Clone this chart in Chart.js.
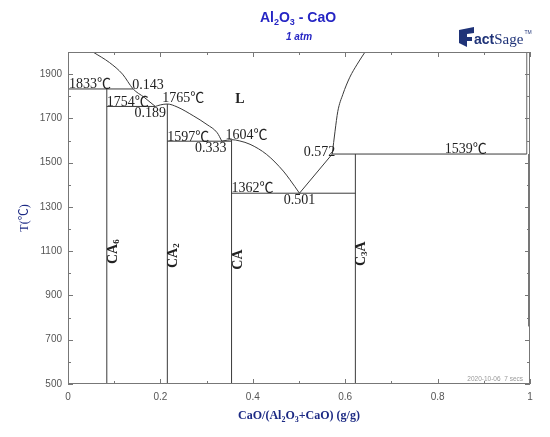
<!DOCTYPE html>
<html>
<head>
<meta charset="utf-8">
<script src="https://cdn.jsdelivr.net/npm/chart.js@4.4.0/dist/chart.umd.min.js"></script>
<style>
html, body { margin: 0; padding: 0; background: #fff; }
</style>
</head>
<body>
<canvas id="c" width="550" height="437"></canvas>
<script>
// compounds: CaO mass fraction and top of their vertical line
const compoundNames = ['CA_6', 'CA_2', 'CA', 'C_3A'];
const compoundX = [0.084, 0.215, 0.354, 0.622];
const compoundTop = [1833, 1765, 1604, 1539];

// invariant lines (T, from x, to x)
const invT = [1833, 1754, 1597, 1362, 1539];
const invFrom = [0, 0.084, 0.215, 0.354, 0.572];
const invTo = [0.141, 0.189, 0.354, 0.622, 0.993];

// liquidus branches
const liqAx = [0.054, 0.09, 0.118, 0.141, 0.165, 0.189];
const liqAT = [2000, 1952, 1900, 1833, 1795, 1754];
const liqBx = [0.189, 0.2, 0.215, 0.236, 0.271, 0.301, 0.323, 0.333];
const liqBT = [1754, 1761, 1765, 1752, 1712, 1672, 1635, 1597];
const liqCx = [0.333, 0.345, 0.354, 0.372, 0.394, 0.43, 0.466, 0.48, 0.501];
const liqCT = [1597, 1602, 1604, 1598, 1583, 1537, 1462, 1424, 1362];
const liqDx = [0.501, 0.572];
const liqDT = [1362, 1539];
const liqEx = [0.572, 0.578, 0.584, 0.595, 0.610, 0.626, 0.643];
const liqET = [1539, 1642, 1732, 1809, 1886, 1945, 2000];

// lines along the CaO side
const edgeX = [0.993, 0.997];
const edgeFrom = [1539, 760];
const edgeTo = [2000, 1539];

const xTicks = [0, 0.2, 0.4, 0.6, 0.8, 1];
const yTicks = [500, 700, 900, 1100, 1300, 1500, 1700, 1900];

// text on the diagram: text, x, T, dx, dy, align
const tempLabels = [
  ['1833℃', 0, 1833, 1, -1, 'left'],
  ['0.143', 0.141, 1833, -1, 0, 'left'],
  ['1754℃', 0.084, 1754, 0, 0, 'left'],
  ['0.189', 0.189, 1754, -5, 11, 'center'],
  ['1765℃', 0.215, 1765, -5, -2, 'left'],
  ['1597℃', 0.215, 1597, 0, 0, 'left'],
  ['0.333', 0.333, 1597, -11, 11, 'center'],
  ['1604℃', 0.354, 1604, -6, -1, 'left'],
  ['0.572', 0.572, 1539, 3, 2, 'right'],
  ['1539℃', 0.861, 1539, 0, -1, 'center'],
  ['1362℃', 0.354, 1362, 0, -1, 'left'],
  ['0.501', 0.501, 1362, 0, 11, 'center']
];
const compoundLabelT = [1098, 1080, 1062, 1089];

const lineStyle = { borderColor: '#3a3a3a', borderWidth: 1, pointRadius: 0, showLine: true, fill: false };
const datasets = [];
compoundX.forEach((x, i) => {
  datasets.push({ ...lineStyle, data: [{ x: x, y: 500 }, { x: x, y: compoundTop[i] }] });
});
invT.forEach((t, i) => {
  datasets.push({ ...lineStyle, data: [{ x: invFrom[i], y: t }, { x: invTo[i], y: t }] });
});
edgeX.forEach((x, i) => {
  datasets.push({ ...lineStyle, borderColor: '#666', data: [{ x: x, y: edgeFrom[i] }, { x: x, y: edgeTo[i] }] });
});
[[liqAx, liqAT], [liqBx, liqBT], [liqCx, liqCT], [liqDx, liqDT], [liqEx, liqET]].forEach(([xs, ts]) => {
  datasets.push({ ...lineStyle, cubicInterpolationMode: 'monotone', data: xs.map((x, i) => ({ x: x, y: ts[i] })) });
});

function parts(str) {
  // "_d" means subscript digit
  const out = [];
  let buf = '';
  for (let i = 0; i < str.length; i++) {
    if (str[i] === '_') {
      if (buf) out.push([buf, false]);
      buf = '';
      out.push([str[i + 1], true]);
      i++;
    } else buf += str[i];
  }
  if (buf) out.push([buf, false]);
  return out;
}

function rich(ctx, str, x, y, font, subFont, subDy, align) {
  const p = parts(str);
  let w = 0;
  p.forEach(q => { ctx.font = q[1] ? subFont : font; w += ctx.measureText(q[0]).width; });
  let sx = align === 'center' ? x - w / 2 : align === 'right' ? x - w : x;
  ctx.textAlign = 'left';
  p.forEach(q => {
    ctx.font = q[1] ? subFont : font;
    ctx.fillText(q[0], sx, y + (q[1] ? subDy : 0));
    sx += ctx.measureText(q[0]).width;
  });
}

const decor = {
  id: 'decor',
  afterDatasetsDraw(chart) {
    const { ctx, chartArea: a, scales: { x, y } } = chart;
    ctx.save();
    // frame
    ctx.strokeStyle = '#777';
    ctx.lineWidth = 1;
    ctx.strokeRect(a.left + 0.5, a.top + 0.5, a.right - a.left - 1, a.bottom - a.top - 1);
    // inner ticks
    ctx.beginPath();
    for (let v = 500; v <= 2000; v += 100) {
      const py = Math.round(y.getPixelForValue(v)) + 0.5;
      const len = yTicks.includes(v) ? 5 : 3;
      ctx.moveTo(a.left, py); ctx.lineTo(a.left + len, py);
      ctx.moveTo(a.right, py); ctx.lineTo(a.right - len, py);
    }
    for (let k = 0; k <= 10; k++) {
      const px = Math.round(x.getPixelForValue(k / 10)) + 0.5;
      const len = k % 2 === 0 ? 5 : 3;
      ctx.moveTo(px, a.bottom); ctx.lineTo(px, a.bottom - len);
      ctx.moveTo(px, a.top); ctx.lineTo(px, a.top + len);
    }
    ctx.stroke();

    // temperatures and compositions
    ctx.fillStyle = '#222';
    ctx.textBaseline = 'alphabetic';
    ctx.font = "14px 'Liberation Serif', 'Noto Sans CJK SC'";
    tempLabels.forEach(([t, lx, lt, dx, dy, al]) => {
      ctx.textAlign = al;
      ctx.fillText(t, x.getPixelForValue(lx) + dx, y.getPixelForValue(lt) + dy);
    });
    ctx.font = "bold 14px 'Liberation Serif'";
    ctx.textAlign = 'center';
    ctx.fillText('L', 240, 103);

    // compound names, rotated
    ctx.textBaseline = 'middle';
    compoundNames.forEach((n, i) => {
      ctx.save();
      ctx.translate(x.getPixelForValue(compoundX[i]) + 6.5, y.getPixelForValue(compoundLabelT[i]));
      ctx.rotate(-Math.PI / 2);
      rich(ctx, n, 0, 0, "bold 14px 'Liberation Serif'", "bold 9px 'Liberation Serif'", 3, 'center');
      ctx.restore();
    });

    // title
    ctx.textBaseline = 'alphabetic';
    ctx.fillStyle = '#2626c4';
    rich(ctx, 'Al_2O_3 - CaO', 298, 22, "bold 14px 'Liberation Sans'", "bold 9px 'Liberation Sans'", 3, 'center');
    ctx.font = "italic bold 10px 'Liberation Sans'";
    ctx.textAlign = 'center';
    ctx.fillText('1 atm', 299, 40);

    // axis titles
    ctx.fillStyle = '#1c2a84';
    rich(ctx, 'CaO/(Al_2O_3+CaO) (g/g)', 299, 419, "bold 12px 'Liberation Serif'", "bold 8px 'Liberation Serif'", 3, 'center');
    ctx.save();
    ctx.translate(25, 218);
    ctx.rotate(-Math.PI / 2);
    ctx.font = "12px 'Liberation Serif', 'Noto Sans CJK SC'";
    ctx.textAlign = 'center';
    ctx.textBaseline = 'middle';
    ctx.fillText('T(℃)', 0, 0);
    ctx.restore();

    // logo
    ctx.fillStyle = '#1f3378';
    ctx.beginPath();
    ctx.moveTo(459, 30); ctx.lineTo(474, 27); ctx.lineTo(474, 33); ctx.lineTo(467, 34);
    ctx.lineTo(467, 37); ctx.lineTo(472, 37); ctx.lineTo(472, 41); ctx.lineTo(467, 41);
    ctx.lineTo(467, 47); ctx.lineTo(459, 43); ctx.closePath();
    ctx.fill();
    ctx.textAlign = 'left';
    ctx.font = "bold 14px 'Liberation Sans'";
    ctx.fillText('act', 474, 44);
    let w = ctx.measureText('act').width;
    ctx.font = "15px 'Liberation Serif'";
    ctx.fillText('Sage', 474 + w, 44);
    const w2 = ctx.measureText('Sage').width;
    ctx.font = "5px 'Liberation Sans'";
    ctx.fillText('TM', 475 + w + w2, 34);

    // date stamp
    ctx.fillStyle = '#999';
    ctx.font = "6.5px 'Liberation Sans'";
    ctx.textAlign = 'right';
    ctx.fillText('2020-10-06  7 secs', 523, 381);
    ctx.restore();
  }
};

Chart.defaults.font.family = "'Liberation Sans', Arial, sans-serif";

new Chart(document.getElementById('c'), {
  type: 'scatter',
  data: { datasets: datasets },
  options: {
    responsive: false,
    animation: false,
    layout: { padding: { top: 52, right: 20, left: 0, bottom: 0 } },
    plugins: { legend: { display: false }, tooltip: { enabled: false } },
    scales: {
      x: {
        type: 'linear', min: 0, max: 1,
        afterBuildTicks: s => { s.ticks = xTicks.map(v => ({ value: v })); },
        afterFit: s => { s.height = 53; },
        grid: { display: false, drawTicks: false },
        border: { display: false },
        ticks: { padding: 7, color: '#555', font: { size: 10 }, autoSkip: false, maxRotation: 0, callback: v => String(v) }
      },
      y: {
        type: 'linear', min: 500, max: 2000,
        afterBuildTicks: s => { s.ticks = yTicks.map(v => ({ value: v })); },
        afterFit: s => { s.width = 68; },
        grid: { display: false, drawTicks: false },
        border: { display: false },
        ticks: { padding: 6, color: '#555', font: { size: 10 }, autoSkip: false, callback: v => String(v) }
      }
    }
  },
  plugins: [decor]
});
</script>
</body>
</html>
